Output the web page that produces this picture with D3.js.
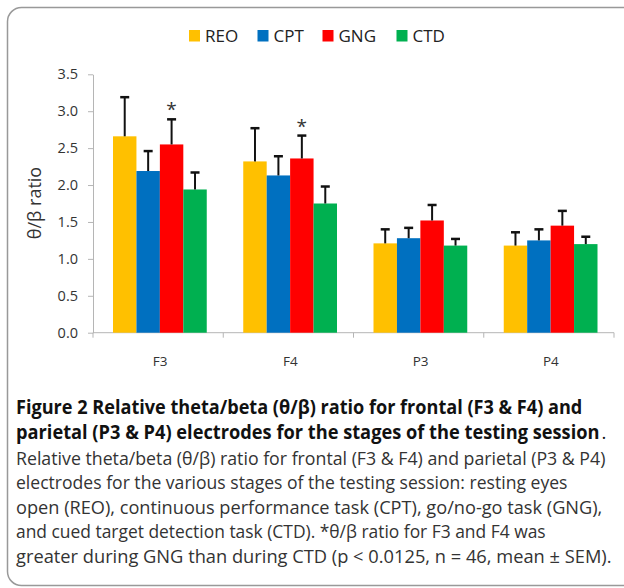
<!DOCTYPE html>
<html>
<head>
<meta charset="utf-8">
<script src="https://cdn.jsdelivr.net/npm/d3@7"></script>
<style>
  body { margin: 0; background: #fff; }
  svg { display: block; }
</style>
</head>
<body>
<svg width="624" height="588"></svg>
<script>
// Chart data
let categories = ['F3', 'F4', 'P3', 'P4'];
let series = ['REO', 'CPT', 'GNG', 'CTD'];
let colors = ['#FFC000', '#0070C0', '#FF0000', '#00B050'];
let reo = [2.66, 2.32, 1.21, 1.18];
let cpt = [2.19, 2.13, 1.28, 1.25];
let gng = [2.55, 2.36, 1.52, 1.45];
let ctd = [1.94, 1.75, 1.18, 1.20];
let reoErr = [0.53, 0.45, 0.19, 0.18];
let cptErr = [0.27, 0.26, 0.14, 0.15];
let gngErr = [0.34, 0.31, 0.21, 0.20];
let ctdErr = [0.23, 0.23, 0.09, 0.10];
let starred = ['F3', 'F4'];   // GNG > CTD
let yTicks = [0, 0.5, 1, 1.5, 2, 2.5, 3, 3.5];

let svg = d3.select('svg');
let width = +svg.attr('width');
let height = +svg.attr('height');
let margin = { top: 74.3, left: 93, right: 10, bottom: 255.3 };

let valuesBySeries = [reo, cpt, gng, ctd];
let errBySeries = [reoErr, cptErr, gngErr, ctdErr];

// flatten into rows for drawing
let rows = [];
categories.forEach((c, i) => {
    series.forEach((s, j) => {
        rows.push({ cat: c, ser: s, color: colors[j], value: valuesBySeries[j][i], err: errBySeries[j][i] });
    });
});

// outer frame
svg.append('rect')
    .attr('x', 7.5).attr('y', 7.5)
    .attr('width', 660).attr('height', 578)
    .attr('rx', 14)
    .style('fill', 'none')
    .style('stroke', '#999')
    .style('stroke-width', 1.5);

// scales
let x0 = d3.scaleBand()
    .domain(categories)
    .range([margin.left, width - margin.right])
    .padding(0);
let x1 = d3.scaleBand()
    .domain(series)
    .range([20, x0.bandwidth() - 16.5]);
let y = d3.scaleLinear()
    .domain([0, 3.5])
    .range([height - margin.bottom, margin.top]);

// y axis
let yAxis = svg.append('g')
    .attr('transform', 'translate(' + margin.left + ',0)')
    .call(d3.axisLeft(y).tickValues(yTicks).tickFormat(d3.format('.1f')).tickSize(5).tickSizeOuter(0).tickPadding(10));
yAxis.select('.domain').style('stroke', '#b5b5b5');
yAxis.selectAll('.tick line').style('stroke', '#b5b5b5');
yAxis.selectAll('.tick text')
    .style('font-family', 'Open Sans, sans-serif')
    .style('font-size', '14.5px')
    .style('fill', '#333');

// x axis: line, boundary ticks, centred labels
let xg = svg.append('g')
    .attr('transform', 'translate(0,' + y(0) + ')');
xg.append('line')
    .attr('x1', margin.left).attr('x2', width - margin.right)
    .style('stroke', '#b5b5b5');
let bounds = categories.map(c => x0(c)).concat([x0(categories[categories.length - 1]) + x0.bandwidth()]);
xg.selectAll('.btick')
    .data(bounds)
    .enter().append('line')
    .attr('x1', d => d).attr('x2', d => d)
    .attr('y1', 0).attr('y2', 5)
    .style('stroke', '#b5b5b5');
xg.selectAll('.xlabel')
    .data(categories)
    .enter().append('text')
    .attr('x', d => x0(d) + x0.bandwidth() / 2 + 2)
    .attr('y', 33)
    .attr('text-anchor', 'middle')
    .style('font-family', 'Open Sans, sans-serif')
    .style('font-size', '13.5px')
    .style('fill', '#333')
    .text(d => d);

// bars
let bar = svg.selectAll('.bar')
    .data(rows)
    .enter().append('g')
    .attr('transform', d => 'translate(' + (x0(d.cat) + x1(d.ser)) + ',0)');

bar.append('rect')
    .attr('x', 0)
    .attr('y', d => y(d.value))
    .attr('width', x1.bandwidth())
    .attr('height', d => y(0) - y(d.value))
    .style('fill', d => d.color);

// error bars, upper half only
bar.append('line')
    .attr('x1', x1.bandwidth() / 2).attr('x2', x1.bandwidth() / 2)
    .attr('y1', d => y(d.value))
    .attr('y2', d => y(d.value + d.err))
    .style('stroke', '#111')
    .style('stroke-width', 2);
bar.append('line')
    .attr('x1', x1.bandwidth() / 2 - 4.5).attr('x2', x1.bandwidth() / 2 + 4.5)
    .attr('y1', d => y(d.value + d.err))
    .attr('y2', d => y(d.value + d.err))
    .style('stroke', '#111')
    .style('stroke-width', 2.5);

// significance stars over GNG
svg.selectAll('.star')
    .data(rows.filter(d => d.ser === 'GNG' && starred.includes(d.cat)))
    .enter().append('text')
    .attr('x', d => x0(d.cat) + x1(d.ser) + x1.bandwidth() / 2)
    .attr('y', d => y(d.value + d.err) - 3)
    .attr('text-anchor', 'middle')
    .style('font-family', 'Open Sans, sans-serif')
    .style('font-size', '19px')
    .style('fill', '#333')
    .text('*');

// y axis title
svg.append('text')
    .attr('transform', 'translate(41,203)rotate(-90)')
    .attr('text-anchor', 'middle')
    .style('font-family', 'Open Sans, sans-serif')
    .style('font-size', '18px')
    .style('fill', '#333')
    .text('θ/β ratio');

// legend
let legendX = [189, 257.5, 322.5, 396.5];
let legend = svg.selectAll('.legend')
    .data(series)
    .enter().append('g')
    .attr('transform', (d, i) => 'translate(' + legendX[i] + ',30)');
legend.append('rect')
    .attr('width', 11).attr('height', 11.5)
    .style('fill', (d, i) => colors[i]);
legend.append('text')
    .attr('x', 16).attr('y', 11.8)
    .style('font-family', 'Open Sans, sans-serif')
    .style('font-size', '17px')
    .style('fill', '#222')
    .text(d => d);

// caption, squeezed horizontally to the condensed width of the original
let captionLines = [
    { y: 414, end: 583, bold: true, text: 'Figure 2 Relative theta/beta (θ/β) ratio for frontal (F3 & F4) and' },
    { y: 439, end: 600, bold: true, text: 'parietal (P3 & P4) electrodes for the stages of the testing session' },
    { y: 465, end: 606, bold: false, text: 'Relative theta/beta (θ/β) ratio for frontal (F3 & F4) and parietal (P3 & P4)' },
    { y: 489, end: 568, bold: false, text: 'electrodes for the various stages of the testing session: resting eyes' },
    { y: 514, end: 603, bold: false, text: 'open (REO), continuous performance task (CPT), go/no-go task (GNG),' },
    { y: 538, end: 546, bold: false, text: 'and cued target detection task (CTD). *θ/β ratio for F3 and F4 was' },
    { y: 563, end: 612, bold: false, text: 'greater during GNG than during CTD (p < 0.0125, n = 46, mean ± SEM).' }
];
captionLines.forEach(line => {
    let t = svg.append('text')
        .attr('x', 0).attr('y', 0)
        .style('font-family', 'Open Sans, sans-serif')
        .style('font-size', line.bold ? '19px' : '18.5px')
        .style('font-weight', line.bold ? 'bold' : 'normal')
        .style('fill', line.bold ? '#111' : '#333')
        .text(line.text);
    let natural = t.node().getComputedTextLength();
    let k = (line.end - 16) / natural;
    t.attr('transform', 'translate(16,' + line.y + ') scale(' + k + ',1)');
});
// trailing full stop of the title is set in regular weight
svg.append('text')
    .attr('x', 601.5).attr('y', 439)
    .style('font-family', 'Open Sans, sans-serif')
    .style('font-size', '18.5px')
    .style('fill', '#111')
    .text('.');
</script>
</body>
</html>
